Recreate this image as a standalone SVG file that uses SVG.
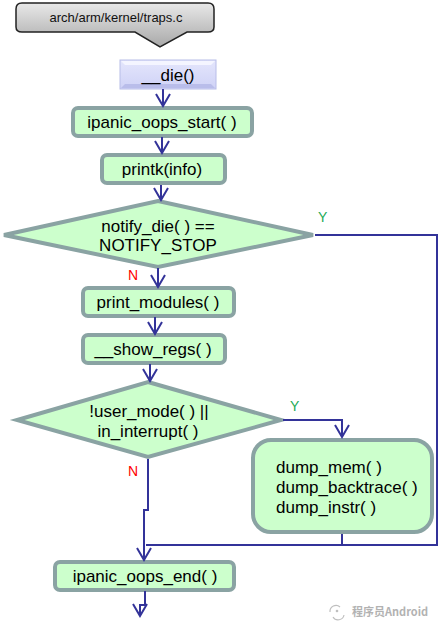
<svg xmlns="http://www.w3.org/2000/svg" width="440" height="632" viewBox="0 0 440 632">
<defs>
<linearGradient id="gGray" x1="0" y1="0" x2="0" y2="1">
<stop offset="0" stop-color="#e8e8e8"/>
<stop offset="0.5" stop-color="#c8c8c8"/>
<stop offset="1" stop-color="#a8a8a8"/>
</linearGradient>
<linearGradient id="gLav" x1="0" y1="0" x2="0" y2="1">
<stop offset="0" stop-color="#e4e6fc"/>
<stop offset="1" stop-color="#cfd2f6"/>
</linearGradient>
<marker id="arr" viewBox="-14 -9 16 18" markerWidth="16" markerHeight="18" refX="0" refY="0" orient="auto" markerUnits="userSpaceOnUse">
<path d="M-12,-7 L0,0 L-12,7" fill="none" stroke="#333399" stroke-width="2"/>
</marker>
</defs>
<style>
.box{fill:#ccffcc;stroke:#8aa3a3;stroke-width:4}
.t{font-family:"Liberation Sans",Arial,sans-serif;font-size:17px;fill:#000}
.c{stroke:#333399;stroke-width:2;fill:none}
.yl{font-family:"Liberation Sans",Arial,sans-serif;font-size:14px;fill:#22aa55}
.nl{font-family:"Liberation Sans",Arial,sans-serif;font-size:14px;fill:#ff0000}
</style>
<rect width="440" height="632" fill="#ffffff"/>

<g id="file">
<path d="M22,3 H208 Q214,3 214,9 V27 Q214,32 208,32 H187 L160,47 L135,32 H22 Q16,32 16,27 V9 Q16,3 22,3 Z" fill="url(#gGray)" stroke="#222" stroke-width="1.5"/>
<text x="116" y="22" text-anchor="middle" style="font-family:'Liberation Sans',Arial,sans-serif;font-size:13px;fill:#111">arch/arm/kernel/traps.c</text>
</g>

<g id="die">
<rect x="120" y="60" width="96" height="29" fill="url(#gLav)" stroke="#b8bde8" stroke-width="1"/>
<path d="M121,61 H215 L211,65 H125 Z" fill="#f4f5ff"/>
<path d="M121,88 H215 L211,84 H125 Z" fill="#b9bdea"/>
<text x="168" y="81" text-anchor="middle" class="t">__die()</text>
</g>

<g id="oops_start">
<rect x="73" y="108" width="179" height="28" rx="5" class="box"/>
<text x="162" y="128" text-anchor="middle" class="t">ipanic_oops_start( )</text>
</g>

<g id="printk">
<rect x="102" y="155" width="123" height="28" rx="5" class="box"/>
<text x="162" y="175" text-anchor="middle" class="t">printk(info)</text>
</g>

<g id="notify">
<polygon points="158,201 313,235 158,267 4,235" class="box"/>
<text x="158" y="232" text-anchor="middle" class="t">notify_die( ) ==</text>
<text x="158" y="251" text-anchor="middle" class="t">NOTIFY_STOP</text>
</g>

<g id="print_modules">
<rect x="83" y="288" width="151" height="28" rx="5" class="box"/>
<text x="158" y="308" text-anchor="middle" class="t">print_modules( )</text>
</g>

<g id="show_regs">
<rect x="83" y="335" width="142" height="28" rx="5" class="box"/>
<text x="153" y="355" text-anchor="middle" class="t">__show_regs( )</text>
</g>

<g id="user_mode">
<polygon points="148,382 281,420 148,457 17,420" class="box"/>
<text x="149" y="417" text-anchor="middle" class="t">!user_mode( ) ||</text>
<text x="148" y="437" text-anchor="middle" class="t">in_interrupt( )</text>
</g>

<g id="dump">
<rect x="253" y="440" width="179" height="92" rx="18" class="box"/>
<text x="276" y="473" class="t">dump_mem( )</text>
<text x="276" y="493" class="t">dump_backtrace( )</text>
<text x="276" y="513" class="t">dump_instr( )</text>
</g>

<g id="oops_end">
<rect x="55" y="562" width="179" height="28" rx="5" class="box"/>
<text x="145" y="582" text-anchor="middle" class="t">ipanic_oops_end( )</text>
</g>

<g id="connectors">
<path class="c" d="M163,89 V106" marker-end="url(#arr)"/>
<path class="c" d="M162,137 V153" marker-end="url(#arr)"/>
<path class="c" d="M161,185 V200" marker-end="url(#arr)"/>
<path class="c" d="M158,268 V287" marker-end="url(#arr)"/>
<path class="c" d="M155,317 V334" marker-end="url(#arr)"/>
<path class="c" d="M150,364 V381" marker-end="url(#arr)"/>
<path class="c" d="M315,235 H437 V545 H146"/>
<path class="c" d="M283,420 H342 V437" marker-end="url(#arr)"/>
<path class="c" d="M342,534 V545"/>
<path class="c" d="M148,459 V510 H144 V560" marker-end="url(#arr)"/>
<path class="c" d="M145,591 V605 H140 V616" marker-end="url(#arr)"/>
<text x="318" y="222" class="yl">Y</text>
<text x="128" y="280" class="nl">N</text>
<text x="290" y="411" class="yl">Y</text>
<text x="128" y="476" class="nl">N</text>
</g>

<g id="watermark" opacity="0.75">
<path d="M330,612 a6,6 0 0 1 10,-5" fill="none" stroke="#aaa" stroke-width="1.2"/>
<path d="M333,617 a6,6 0 0 0 11,-2" fill="none" stroke="#aaa" stroke-width="1.2"/>
<circle cx="337" cy="611" r="1.3" fill="#aaa"/>
<text x="352" y="616" style="font-family:'Noto Sans CJK SC','Liberation Sans',sans-serif;font-size:11px;font-weight:bold;fill:#999">程序员Android</text>
</g>
</svg>
